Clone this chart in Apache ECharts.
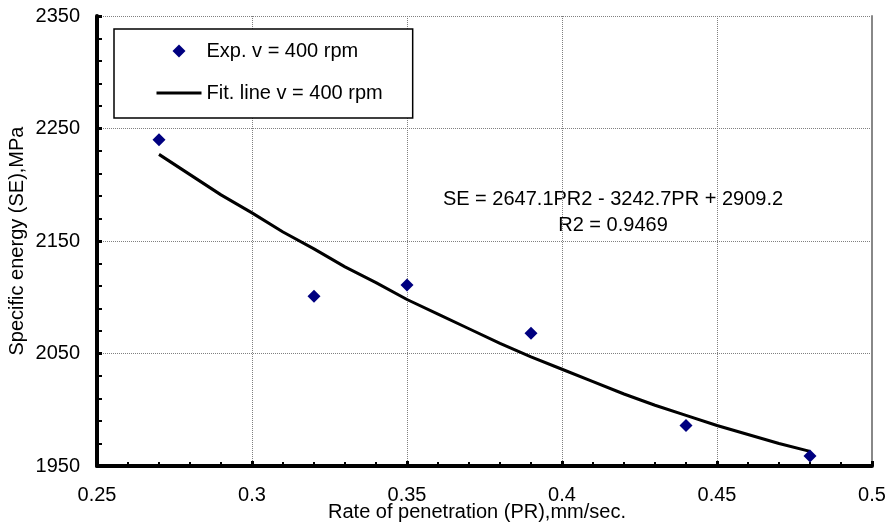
<!DOCTYPE html>
<html>
<head>
<meta charset="utf-8">
<script src="https://cdn.jsdelivr.net/npm/echarts@6/dist/echarts.min.js"></script>
<style>
html,body{margin:0;padding:0;background:#fff;}
#chart{width:889px;height:530px;}
</style>
</head>
<body>
<div id="chart"></div>
<script>
// Data
const expX = [0.27, 0.32, 0.35, 0.39, 0.44, 0.48];
const expY = [2240, 2101, 2111, 2068, 1986, 1959];

const fitX = [0.27, 0.28, 0.29, 0.30, 0.31, 0.32, 0.33, 0.34, 0.35, 0.36, 0.37,
              0.38, 0.39, 0.40, 0.41, 0.42, 0.43, 0.44, 0.45, 0.46, 0.47, 0.48];
const fitY = [2227, 2209, 2191, 2175, 2158, 2143, 2127, 2113, 2098, 2085, 2072,
              2059, 2047, 2036, 2025, 2014, 2004, 1995, 1986, 1978, 1970, 1963];

const seriesNames = ['Exp. v = 400 rpm', 'Fit. line v = 400 rpm'];
const xTitle = 'Rate of penetration (PR),mm/sec.';
const yTitle = 'Specific energy (SE),MPa';
const eqLines = ['SE = 2647.1PR2 - 3242.7PR + 2909.2', 'R2 = 0.9469'];

const FONT = 'Arial, "Liberation Sans", Helvetica, sans-serif';
const FS = 20;

// legend diamond icon, centred in a 45x14 box (invisible move-to corners fix the box)
const LEGEND_DIAMOND = 'path://M0,0M45,14M22.5,0.5L29,7L22.5,13.5L16,7Z';

const chart = echarts.init(document.getElementById('chart'), null, {renderer: 'canvas'});

const option = {
  animation: false,
  backgroundColor: '#fff',
  textStyle: {fontFamily: FONT},
  grid: {left: 97, right: 17, top: 16, bottom: 64, containLabel: false, outerBoundsMode: 'none'},
  xAxis: {
    type: 'value', min: 0.25, max: 0.5, interval: 0.05,
    name: xTitle, nameLocation: 'middle', nameGap: 36, nameMoveOverlap: false,
    nameTextStyle: {fontSize: FS, color: '#000', fontFamily: FONT, padding: [0, 15, 0, 0]},
    axisLine: {show: true, onZero: false, lineStyle: {color: '#000', width: 4}},
    axisTick: {show: true, inside: true, length: 5, lineStyle: {color: '#000', width: 3}},
    minorTick: {show: true, splitNumber: 5, length: 4, lineStyle: {color: '#000', width: 2}},
    axisLabel: {fontSize: FS, color: '#000', margin: 19, fontFamily: FONT,
      formatter: v => String(+v.toFixed(2))},
    splitLine: {show: true, lineStyle: {color: '#808080', type: 'dotted', width: 1}}
  },
  yAxis: [{
    type: 'value', min: 1950, max: 2350, interval: 100,
    name: yTitle, nameLocation: 'middle', nameGap: 70, nameRotate: 90, nameMoveOverlap: false,
    nameTextStyle: {fontSize: FS, color: '#000', fontFamily: FONT},
    axisLine: {show: true, onZero: false, lineStyle: {color: '#000', width: 4}},
    axisTick: {show: true, inside: true, length: 5, lineStyle: {color: '#000', width: 3}},
    minorTick: {show: true, splitNumber: 5, length: 5, lineStyle: {color: '#000', width: 2}},
    axisLabel: {fontSize: FS, color: '#000', margin: 17, fontFamily: FONT,
      formatter: v => String(Math.round(v))},
    splitLine: {show: true, lineStyle: {color: '#808080', type: 'dotted', width: 1}}
  }, {
    type: 'value', min: 1950, max: 2350, interval: 100, position: 'right',
    axisLine: {show: true, onZero: false, lineStyle: {color: '#888', width: 2}},
    axisTick: {show: false}, axisLabel: {show: false}, splitLine: {show: false}
  }],
  legend: {
    orient: 'vertical', left: 114, top: 29,
    padding: [12, 30, 15, 41], itemGap: 22,
    itemWidth: 45, itemHeight: 14,
    backgroundColor: '#fff', borderColor: '#000', borderWidth: 1.5, borderRadius: 0,
    textStyle: {fontSize: FS, color: '#000', fontFamily: FONT, lineHeight: 20},
    data: [
      {name: seriesNames[0], icon: LEGEND_DIAMOND, itemStyle: {color: '#000080', opacity: 1}},
      {name: seriesNames[1], itemStyle: {opacity: 0, color: 'rgba(0,0,0,0)', borderWidth: 0},
       lineStyle: {color: '#000', width: 3, opacity: 1}}
    ]
  },
  graphic: [{
    type: 'group', z: 50,
    children: [
      {type: 'rect', shape: {x: 438, y: 180, width: 351, height: 66}, style: {fill: '#fff'}},
      {type: 'text', x: 613, y: 199, style: {text: eqLines[0], font: FS + 'px ' + FONT, fill: '#000', align: 'center', verticalAlign: 'middle'}},
      {type: 'text', x: 613, y: 225, style: {text: eqLines[1], font: FS + 'px ' + FONT, fill: '#000', align: 'center', verticalAlign: 'middle'}}
    ]
  }],
  series: [{
    name: seriesNames[0], type: 'scatter',
    symbol: 'diamond', symbolSize: 13,
    itemStyle: {color: '#000080', opacity: 1},
    data: expX.map((x, i) => [x, expY[i]]),
    z: 5
  }, {
    name: seriesNames[1], type: 'line',
    symbol: 'none', showSymbol: false, smooth: false,
    lineStyle: {color: '#000', width: 3},
    itemStyle: {color: '#000'},
    data: fitX.map((x, i) => [x, fitY[i]]),
    z: 4
  }]
};
chart.setOption(option);
</script>
</body>
</html>
